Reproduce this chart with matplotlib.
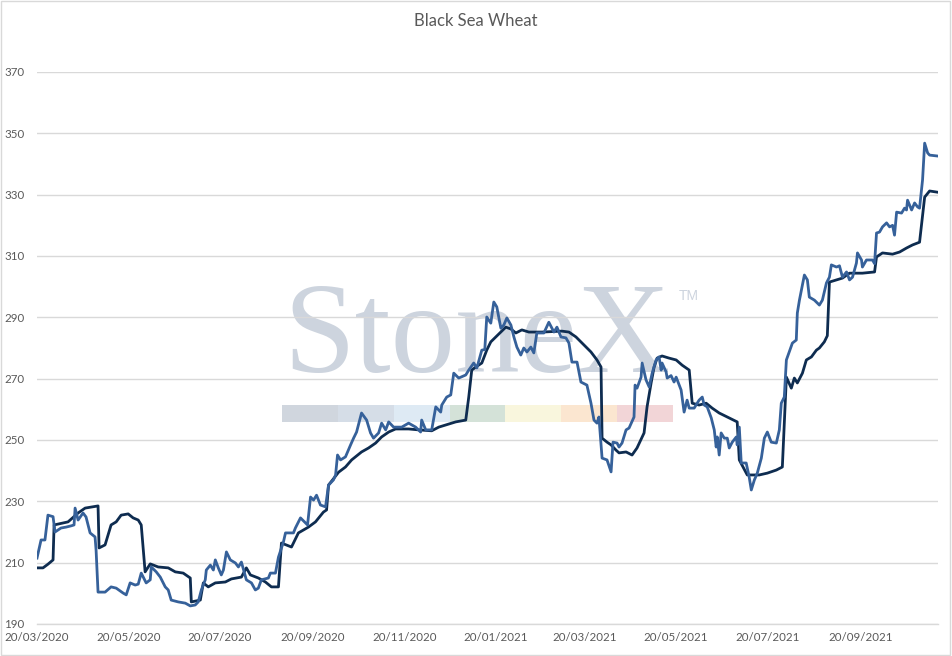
import matplotlib
matplotlib.use("Agg")
import matplotlib.pyplot as plt
import matplotlib.dates as mdates
from matplotlib.patches import Rectangle
import pandas as pd
import numpy as np

# ---------------- data ----------------
START_DATE = "2020-03-20"

# dark series: days since 20/03/2020 and price
dark_days = [0, 4, 7.3, 10.7, 11.4, 20.7, 27.4, 32.1, 40.7, 41.4, 45.4, 49.4, 52.8, 56.1,
             60.8, 64.1, 67.5, 69.5, 72.1, 75.5, 80.8, 87.5, 92.2, 97.5, 102.2, 102.9,
             108.9, 110.9, 114.2, 118.9, 125.6, 129.6, 136.3, 139.6, 142.3, 147.6, 152.3,
             156.3, 161, 163, 169.7, 174.3, 181, 185.7, 191, 193.1, 194.4, 201.1, 205.7,
             209.8, 216.4, 221.1, 225.8, 229.8, 234.5, 239.1, 247.8, 254.5, 263.2, 267.9,
             272.5, 279.2, 285.9, 287.9, 289.9, 292.6, 296.6, 299.9, 302.6, 305.9, 309.3,
             312.6, 316, 319.3, 323.3, 328, 336.7, 350, 354.7, 359.4, 366.1, 369.4, 373.4,
             376.1, 376.8, 380.1, 382.8, 386.1, 388.1, 392.8, 396.8, 400.1, 404.8, 406.8,
             409.5, 411.5, 413.5, 416.8, 421.5, 426.2, 430.2, 434.9, 436.9, 441.5, 446.2,
             450.2, 454.9, 461.6, 466.9, 468.3, 473.6, 481.6, 487, 493, 497, 499.7, 503,
             505, 507, 510.4, 513, 516.4, 519.7, 521.7, 525, 527, 528.4, 537.1, 541.8,
             550.4, 558.5, 559.8, 563.8, 570.5, 575.2, 579.8, 583.8, 588.5, 591.9, 595.2,
             600.5]
dark_vals = [208.3, 208.3, 209.5, 210.9, 222.3, 223.3, 226.2, 227.8, 228.5, 214.8, 215.8,
             222.3, 223.3, 225.5, 225.9, 224.6, 223.9, 222.3, 207.0, 209.6, 208.6, 208.3,
             207.0, 206.6, 205.0, 197.2, 197.8, 203.4, 202.1, 203.4, 203.7, 204.7, 205.3,
             208.3, 206.0, 205.0, 203.7, 202.1, 202.1, 216.4, 215.1, 219.7, 221.6, 223.3,
             226.5, 227.2, 235.3, 239.5, 241.2, 243.5, 246.1, 247.4, 249.0, 251.0, 252.6,
             253.6, 253.6, 253.3, 253.0, 254.2, 254.9, 255.9, 256.5, 264.0, 272.8, 273.8,
             275.1, 279.3, 282.0, 283.6, 285.2, 286.8, 286.2, 284.9, 285.9, 285.2, 285.2,
             285.5, 285.2, 283.6, 280.3, 278.7, 276.1, 273.8, 250.6, 249.3, 248.4, 246.7,
             245.8, 246.1, 245.1, 247.4, 252.3, 260.8, 268.6, 273.8, 276.7, 277.4, 276.7,
             276.1, 274.4, 272.8, 262.0, 261.4, 262.0, 260.4, 258.8, 257.2, 255.9, 243.5,
             238.6, 238.6, 239.2, 240.2, 241.2, 270.5, 266.9, 270.2, 268.6, 271.8, 276.1,
             277.1, 279.3, 280.0, 282.0, 284.0, 301.5, 302.8, 304.4, 304.4, 304.8, 309.7,
             311.0, 310.6, 311.3, 312.6, 313.6, 314.5, 329.2, 331.2, 330.8]

# light series: days since 20/03/2020 and price
light_days = [0, 2.7, 5.3, 7.3, 10.7, 12, 16, 19.4, 22.7, 24.7, 25.4, 27.4, 30.7, 32.7,
              35.4, 38.7, 39.4, 40.7, 45.4, 49.4, 52.8, 57.4, 59.5, 62.1, 65.5, 67.5, 69.5,
              72.8, 75.5, 76.2, 79.5, 82.2, 85.5, 87.5, 89.5, 94.2, 98.9, 102.2, 105.5,
              107.5, 109.6, 112.2, 112.9, 115.6, 117.6, 118.9, 120.9, 122.9, 124.3, 126.3,
              128.9, 132.3, 134.3, 136.3, 139.6, 143, 145.6, 147.6, 149.6, 154.3, 155.6,
              159, 161, 164.3, 165.7, 171, 172.3, 175.7, 179, 180.4, 182.4, 184.4, 186.4,
              189, 192.4, 194.4, 197.7, 199.1, 200.4, 202.4, 205.7, 209.1, 211.1, 213.1,
              216.4, 219.8, 222.4, 224.4, 227.8, 229.8, 232.5, 234.5, 237.8, 243.2, 247.8,
              252.5, 255.8, 256.5, 259.2, 263.2, 265.9, 269.2, 269.9, 273.2, 275.9, 277.9,
              281.2, 285.9, 287.9, 291.2, 293.3, 296.6, 298.6, 299.9, 302.6, 304.6, 306.6,
              309.3, 311.3, 313.3, 316, 318, 320, 322.6, 324.6, 326.7, 329.3, 331.3, 333.3,
              338, 341.3, 344.7, 346.7, 349.4, 352.7, 354.7, 356.7, 360.1, 362.7, 366.7,
              369.4, 371.4, 373.4, 374.7, 376.8, 380.1, 382.8, 384.1, 386.8, 388.1, 390.1,
              392.8, 394.8, 398.1, 398.8, 400.1, 402.8, 403.5, 406.1, 408.2, 410.2, 412.8,
              414.8, 416.2, 416.8, 419.5, 420.2, 422.8, 424.8, 426.2, 429.5, 430.2, 431.5,
              433.5, 434.9, 438.2, 441.5, 443.6, 444.9, 446.9, 449.6, 451.6, 452.9, 453.6,
              454.9, 456.2, 458.3, 460.3, 461.6, 463.6, 466.3, 466.9, 468.3, 469.6, 472.9,
              474.9, 476.3, 478.3, 480.3, 483, 485, 487, 489.6, 493, 495, 496.3, 498.3,
              499.7, 503.7, 506.3, 507, 508.4, 509.7, 511.7, 513.7, 515, 518.4, 521.7,
              523.7, 526.4, 528.4, 529.7, 533.1, 535.1, 537.1, 539.8, 541.8, 543.8, 546.4,
              547.1, 549.8, 550.4, 553.1, 557.1, 558.5, 559.8, 561.8, 563.8, 566.5, 568.5,
              570.5, 571.8, 573.2, 576.5, 578.5, 579.8, 580.5, 583.2, 585.2, 587.2, 588.5,
              590.5, 591.9, 593.9, 595.2, 600.5]
light_vals = [211.5, 217.4, 217.4, 225.5, 225.0, 220.0, 221.3, 221.6, 222.0, 222.3, 227.8,
              223.9, 226.2, 224.9, 219.7, 218.4, 214.1, 200.4, 200.4, 202.1, 201.7, 200.1,
              199.5, 203.4, 202.7, 203.0, 206.6, 203.4, 204.4, 208.6, 207.0, 205.3, 202.1,
              201.1, 197.8, 197.2, 196.8, 195.9, 196.2, 197.2, 201.1, 204.4, 207.6, 209.2,
              207.6, 210.9, 208.3, 206.0, 207.6, 213.5, 210.9, 209.9, 208.6, 210.2, 204.4,
              203.4, 201.1, 201.7, 204.4, 205.0, 206.6, 206.6, 211.8, 216.7, 219.7, 219.7,
              221.3, 224.6, 223.0, 222.3, 231.4, 230.4, 232.0, 228.8, 228.2, 235.3, 237.0,
              238.6, 245.1, 243.5, 244.5, 248.4, 250.6, 252.6, 258.8, 256.5, 252.3, 250.6,
              252.3, 255.5, 253.3, 255.9, 254.2, 254.2, 255.5, 254.2, 252.6, 256.5, 253.3,
              253.3, 260.8, 259.1, 261.4, 264.0, 264.7, 271.8, 270.2, 271.2, 272.8, 275.1,
              273.5, 279.3, 279.5, 290.1, 288.1, 295.0, 293.4, 286.5, 287.5, 289.8, 287.5,
              283.6, 280.3, 277.7, 280.0, 278.7, 280.3, 278.4, 284.9, 284.9, 288.4, 285.2,
              286.8, 283.6, 283.3, 281.6, 275.4, 275.4, 268.9, 267.9, 262.0, 256.5, 255.5,
              257.5, 244.1, 243.5, 239.6, 249.3, 249.0, 247.7, 249.0, 253.3, 253.9, 257.5,
              267.9, 266.9, 270.5, 275.1, 269.6, 267.3, 271.8, 276.1, 277.1, 272.8, 275.1,
              272.2, 270.2, 271.0, 268.9, 270.5, 266.3, 263.7, 259.1, 263.0, 260.4, 260.4,
              263.0, 264.0, 261.4, 260.8, 257.2, 253.3, 247.7, 251.0, 245.1, 252.3, 250.6,
              250.6, 247.4, 249.3, 251.0, 248.4, 254.2, 242.5, 242.5, 237.9, 233.7, 236.9,
              239.2, 244.1, 250.6, 252.6, 249.3, 249.0, 253.3, 262.0, 264.0, 276.1, 281.6,
              282.6, 291.4, 295.6, 298.9, 303.8, 302.2, 296.6, 295.6, 294.0, 295.6, 301.2,
              303.1, 307.1, 306.4, 306.8, 303.1, 304.8, 302.2, 303.1, 307.7, 311.0, 308.7,
              306.4, 308.7, 308.7, 307.5, 317.5, 317.8, 319.5, 320.8, 319.5, 320.0, 316.8,
              324.3, 324.0, 325.6, 325.0, 328.2, 325.0, 327.3, 326.0, 325.6, 334.8, 346.8,
              343.6, 342.9, 342.6]

y_ticks = [190, 210, 230, 250, 270, 290, 310, 330, 350, 370]
x_tick_labels = ["20/03/2020", "20/05/2020", "20/07/2020", "20/09/2020", "20/11/2020",
                 "20/01/2021", "20/03/2021", "20/05/2021", "20/07/2021", "20/09/2021"]
title = "Black Sea Wheat"

# ---------------- plot ----------------
plt.rcParams['font.family'] = ['Lato', 'DejaVu Sans']

W, H = 953, 656
fig = plt.figure(figsize=(W / 100, H / 100), dpi=100)
ax = fig.add_axes([37 / W, 1 - 624 / H, (938 - 37) / W, (624 - 72) / H])

start = pd.Timestamp(START_DATE)
dark_x = start + pd.to_timedelta(np.array(dark_days), unit="D")
light_x = start + pd.to_timedelta(np.array(light_days), unit="D")

DARK = "#0e2c50"
LIGHT = "#36619a"
GRID = "#d9d9d9"
TXT = "#595959"

ax.plot(dark_x, dark_vals, color=DARK, lw=2.0, zorder=3, solid_joinstyle="round")
ax.plot(light_x, light_vals, color=LIGHT, lw=2.0, zorder=4, solid_joinstyle="round")

ax.set_ylim(190, 370)
ax.set_yticks(y_ticks)
ax.set_xlim(start, start + pd.Timedelta(days=600.8))
tick_dates = [pd.to_datetime(s, format="%d/%m/%Y") for s in x_tick_labels]
ax.set_xticks(tick_dates)
ax.set_xticklabels(x_tick_labels)

ax.grid(axis="y", color=GRID, lw=1.0, zorder=1)
ax.set_axisbelow(True)
for s in ["top", "right", "left"]:
    ax.spines[s].set_visible(False)
ax.spines["bottom"].set_color(GRID)
ax.spines["bottom"].set_linewidth(1.0)
ax.tick_params(axis="both", length=0, colors=TXT, labelsize=8.3)
ax.tick_params(axis="y", pad=9)
ax.tick_params(axis="x", pad=6)

# title
fig.text(476 / W, 1 - 21 / H, title, ha="center", va="center", fontsize=12, color=TXT)

# watermark (StoneX logo)
wm = "#cdd4de"
ax.text((283 - 37) / 901, (624 - 372) / 552, "StoneX", transform=ax.transAxes,
        fontsize=93, family="Liberation Serif", color=wm, ha="left", va="baseline", zorder=0.2)
ax.text((679 - 37) / 901, (624 - 300) / 552, "TM", transform=ax.transAxes,
        fontsize=10, family="Liberation Sans", color=wm, ha="left", va="baseline", zorder=0.2)
bar_colors = ["#d0d6de", "#d5dde7", "#deeaf4", "#d4e2d8", "#f9f6dd", "#fbe6d0", "#f2d5d7"]
bx0, bw = (282 - 37) / 901, (673 - 282) / 901 / len(bar_colors)
by0, bh = (624 - 422) / 552, 17 / 552
for i, c in enumerate(bar_colors):
    ax.add_patch(Rectangle((bx0 + i * bw, by0), bw, bh, transform=ax.transAxes,
                           facecolor=c, edgecolor="none", zorder=0.2))

# outer chart frame
fig.add_artist(Rectangle((0.5 / W, 1 - 655 / H), 950 / W, 654.5 / H, transform=fig.transFigure,
                         facecolor="none", edgecolor=GRID, lw=1.0))

fig.savefig("out.png", dpi=100)
